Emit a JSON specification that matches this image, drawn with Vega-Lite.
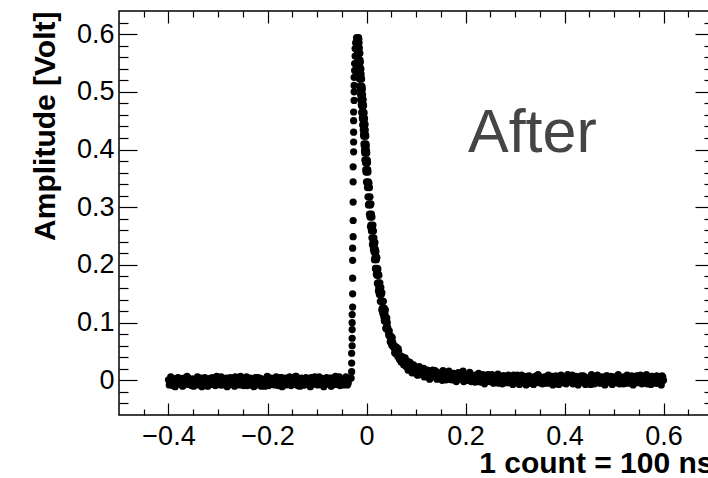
{
  "$schema": "https://vega.github.io/schema/vega-lite/v6.json",
  "width": 594,
  "height": 404,
  "autosize": {"type": "none"},
  "padding": {"left": 119, "top": 11, "right": -5, "bottom": 63},
  "background": "white",
  "config": {
    "view": {"stroke": "black", "strokeWidth": 1.5},
    "axis": {
      "domain": false,
      "grid": false,
      "tickColor": "black",
      "tickWidth": 1.2,
      "labelFont": "Liberation Sans",
      "labelFontSize": 27,
      "labelColor": "black",
      "titleFont": "Liberation Sans",
      "titleFontSize": 30,
      "titleFontWeight": "bold",
      "titleColor": "black"
    }
  },
  "data": {
    "values": "t,v\n-0.4,0.001\n-0.397,-0.007\n-0.394,-0.001\n-0.391,-0.009\n-0.388,0.002\n-0.385,-0.004\n-0.382,0.004\n-0.379,-0.006\n-0.376,-0.002\n-0.373,0.003\n-0.37,-0.008\n-0.367,0\n-0.364,-0.005\n-0.361,0.005\n-0.358,-0.003\n-0.355,-0.007\n-0.352,0.002\n-0.349,-0.01\n-0.346,0\n-0.343,0.003\n-0.34,-0.005\n-0.337,-0.002\n-0.334,0.004\n-0.331,-0.008\n-0.328,0.001\n-0.325,-0.004\n-0.322,-0.009\n-0.319,0.002\n-0.316,-0.001\n-0.313,-0.006\n-0.31,0.005\n-0.307,-0.007\n-0.304,0\n-0.301,-0.003\n-0.298,0.003\n-0.295,-0.008\n-0.292,-0.002\n-0.289,0.001\n-0.286,-0.005\n-0.283,0.004\n-0.28,-0.009\n-0.277,-0.001\n-0.274,0.002\n-0.271,-0.004\n-0.268,-0.007\n-0.265,0.006\n-0.262,-0.006\n-0.259,0\n-0.256,-0.008\n-0.253,0.001\n-0.25,-0.002\n-0.247,-0.005\n-0.244,0.003\n-0.241,-0.009\n-0.238,-0.001\n-0.235,0.004\n-0.232,-0.004\n-0.229,-0.007\n-0.226,0.002\n-0.223,-0.003\n-0.22,0.005\n-0.217,-0.008\n-0.214,0\n-0.211,-0.006\n-0.208,0.001\n-0.205,-0.01\n-0.202,0.003\n-0.199,-0.002\n-0.196,-0.004\n-0.193,0.004\n-0.19,-0.007\n-0.187,-0.001\n-0.184,-0.005\n-0.181,0.002\n-0.178,-0.009\n-0.175,0\n-0.172,0.005\n-0.169,-0.006\n-0.166,-0.002\n-0.163,-0.008\n-0.16,0.001\n-0.157,0.003\n-0.154,-0.003\n-0.151,-0.007\n-0.148,0.004\n-0.145,-0.005\n-0.142,0.007\n-0.139,-0.009\n-0.136,0.002\n-0.133,0\n-0.13,-0.004\n-0.127,-0.008\n-0.124,0.003\n-0.121,-0.002\n-0.118,0.001\n-0.115,-0.006\n-0.112,0.005\n-0.109,-0.007\n-0.106,-0.001\n-0.103,-0.004\n-0.1,0.005\n-0.097,-0.007\n-0.094,0\n-0.091,-0.003\n-0.088,0.003\n-0.085,-0.008\n-0.082,-0.002\n-0.079,0.001\n-0.076,-0.005\n-0.073,0.004\n-0.07,-0.009\n-0.067,-0.001\n-0.064,0.002\n-0.061,-0.004\n-0.058,-0.007\n-0.055,0.006\n-0.052,-0.006\n-0.049,0\n-0.046,-0.008\n-0.043,0.001\n-0.04,-0.002\n-0.037,-0.005\n-0.034,0.003\n-0.3985,-0.008\n-0.3955,0.006\n-0.3925,-0.004\n-0.3895,0.003\n-0.3865,-0.011\n-0.3835,0.001\n-0.3805,0.005\n-0.3775,-0.006\n-0.3745,-0.001\n-0.3715,-0.01\n-0.3685,0.004\n-0.3655,-0.003\n-0.3625,0.007\n-0.3595,-0.007\n-0.3565,0\n-0.3535,-0.009\n-0.3505,0.002\n-0.3475,-0.002\n-0.3445,-0.005\n-0.3415,0.006\n-0.3385,-0.008\n-0.3355,0.003\n-0.3325,-0.011\n-0.3295,-0.001\n-0.3265,0.005\n-0.3235,-0.004\n-0.3205,-0.01\n-0.3175,0.002\n-0.3145,0.004\n-0.3115,-0.007\n-0.3085,0.001\n-0.3055,-0.009\n-0.3025,0.007\n-0.2995,-0.003\n-0.2965,-0.006\n-0.2935,0.006\n-0.2905,-0.008\n-0.2875,0\n-0.2845,0.003\n-0.2815,-0.011\n-0.2785,-0.002\n-0.2755,0.005\n-0.2725,-0.005\n-0.2695,0.004\n-0.2665,-0.01\n-0.2635,-0.001\n-0.2605,0.002\n-0.2575,-0.007\n-0.2545,0.007\n-0.2515,-0.004\n-0.2485,-0.009\n-0.2455,0.001\n-0.2425,0.006\n-0.2395,-0.006\n-0.2365,-0.008\n-0.2335,0.003\n-0.2305,0\n-0.2275,-0.011\n-0.2245,0.005\n-0.2215,-0.003\n-0.2185,-0.005\n-0.2155,0.004\n-0.2125,-0.01\n-0.2095,0.002\n-0.2065,-0.001\n-0.2035,-0.007\n-0.2005,0.007\n-0.1975,-0.009\n-0.1945,0.001\n-0.1915,-0.004\n-0.1885,0.003\n-0.1855,-0.008\n-0.1825,0.006\n-0.1795,-0.002\n-0.1765,-0.006\n-0.1735,0.005\n-0.1705,-0.011\n-0.1675,0\n-0.1645,0.004\n-0.1615,-0.005\n-0.1585,-0.003\n-0.1555,0.006\n-0.1525,-0.009\n-0.1495,0.002\n-0.1465,-0.007\n-0.1435,0.007\n-0.1405,-0.004\n-0.1375,0.001\n-0.1345,-0.01\n-0.1315,0.004\n-0.1285,-0.001\n-0.1255,-0.008\n-0.1225,0.005\n-0.1195,-0.006\n-0.1165,0\n-0.1135,-0.011\n-0.1105,0.003\n-0.1075,-0.003\n-0.1045,0.006\n-0.1015,-0.005\n-0.0985,-0.008\n-0.0955,0.006\n-0.0925,-0.004\n-0.0895,0.003\n-0.0865,-0.011\n-0.0835,0.001\n-0.0805,0.005\n-0.0775,-0.006\n-0.0745,-0.001\n-0.0715,-0.01\n-0.0685,0.004\n-0.0655,-0.003\n-0.0625,0.007\n-0.0595,-0.007\n-0.0565,0\n-0.0535,-0.009\n-0.0505,0.002\n-0.0475,-0.002\n-0.0445,-0.005\n-0.0415,0.006\n-0.0385,-0.008\n-0.0355,0.003\n-0.031,0.004\n-0.03,0.015\n-0.03,0.03\n-0.03,0.047\n-0.029,0.06\n-0.029,0.073\n-0.029,0.088\n-0.029,0.1\n-0.029,0.114\n-0.028,0.127\n-0.028,0.15\n-0.028,0.177\n-0.028,0.208\n-0.028,0.229\n-0.027,0.249\n-0.027,0.277\n-0.027,0.309\n-0.027,0.344\n-0.027,0.37\n-0.026,0.396\n-0.026,0.413\n-0.026,0.43\n-0.026,0.45\n-0.026,0.465\n-0.025,0.485\n-0.025,0.5\n-0.025,0.511\n-0.025,0.525\n-0.024,0.537\n-0.024,0.549\n-0.023,0.562\n-0.023,0.575\n-0.022,0.585\n-0.02,0.594\n-0.0195,0.591\n-0.019,0.585\n-0.0185,0.576\n-0.018,0.567\n-0.0175,0.567\n-0.017,0.555\n-0.0165,0.551\n-0.016,0.541\n-0.0155,0.539\n-0.015,0.531\n-0.0145,0.524\n-0.014,0.522\n-0.0135,0.51\n-0.013,0.508\n-0.0125,0.504\n-0.012,0.495\n-0.0115,0.487\n-0.011,0.486\n-0.0105,0.478\n-0.01,0.476\n-0.0095,0.465\n-0.009,0.463\n-0.0085,0.455\n-0.008,0.453\n-0.0075,0.442\n-0.007,0.444\n-0.0065,0.434\n-0.006,0.426\n-0.0055,0.423\n-0.005,0.41\n-0.0045,0.406\n-0.004,0.398\n-0.0035,0.394\n-0.003,0.382\n-0.0025,0.381\n-0.002,0.377\n-0.0015,0.365\n-0.001,0.361\n0,0.344\n0.001,0.342\n0.002,0.334\n0.003,0.318\n0.004,0.304\n0.005,0.306\n0.006,0.288\n0.007,0.283\n0.008,0.266\n0.009,0.269\n0.01,0.259\n0.011,0.247\n0.012,0.235\n0.013,0.239\n0.014,0.227\n0.015,0.223\n0.016,0.209\n0.017,0.213\n0.018,0.194\n0.019,0.193\n0.02,0.184\n0.021,0.182\n0.022,0.168\n0.023,0.169\n0.024,0.155\n0.025,0.161\n0.026,0.149\n0.027,0.152\n0.028,0.137\n0.029,0.137\n0.03,0.137\n0.031,0.122\n0.032,0.125\n0.033,0.116\n0.034,0.122\n0.035,0.11\n0.036,0.103\n0.037,0.108\n0.039,0.09\n0.041,0.094\n0.043,0.091\n0.045,0.078\n0.047,0.076\n0.049,0.077\n0.051,0.061\n0.053,0.066\n0.055,0.057\n0.057,0.048\n0.059,0.056\n0.061,0.05\n0.063,0.042\n0.065,0.05\n0.067,0.036\n0.069,0.041\n0.071,0.036\n0.073,0.04\n0.075,0.027\n0.077,0.031\n0.079,0.033\n0.081,0.025\n0.083,0.033\n0.085,0.018\n0.087,0.025\n0.089,0.026\n0.091,0.019\n0.093,0.015\n0.095,0.027\n0.097,0.014\n0.099,0.019\n-0.016,0.594\n-0.0155,0.591\n-0.015,0.585\n-0.0145,0.576\n-0.014,0.567\n-0.0135,0.567\n-0.013,0.555\n-0.0125,0.551\n-0.012,0.541\n-0.0115,0.539\n-0.011,0.531\n-0.0105,0.524\n-0.01,0.522\n-0.0095,0.51\n-0.009,0.508\n-0.0085,0.504\n-0.008,0.495\n-0.0075,0.487\n-0.007,0.486\n-0.0065,0.478\n-0.006,0.476\n-0.0055,0.465\n-0.005,0.463\n-0.0045,0.455\n-0.004,0.453\n-0.0035,0.442\n-0.003,0.444\n-0.0025,0.434\n-0.002,0.426\n-0.0015,0.423\n-0.001,0.41\n-0.0005,0.406\n0,0.398\n0.0005,0.394\n0.001,0.382\n0.0015,0.381\n0.002,0.377\n0.0025,0.365\n0.003,0.361\n0.004,0.344\n0.005,0.342\n0.006,0.334\n0.007,0.318\n0.008,0.304\n0.009,0.306\n0.01,0.288\n0.011,0.283\n0.012,0.266\n0.013,0.269\n0.014,0.259\n0.015,0.247\n0.016,0.235\n0.017,0.239\n0.018,0.227\n0.019,0.223\n0.02,0.209\n0.021,0.213\n0.022,0.194\n0.023,0.193\n0.024,0.184\n0.025,0.182\n0.026,0.168\n0.027,0.169\n0.028,0.155\n0.029,0.161\n0.03,0.149\n0.031,0.152\n0.032,0.137\n0.033,0.137\n0.034,0.137\n0.035,0.122\n0.036,0.125\n0.037,0.116\n0.038,0.122\n0.039,0.11\n0.04,0.103\n0.041,0.108\n0.04,0.092\n0.042,0.1\n0.044,0.084\n0.046,0.086\n0.048,0.067\n0.05,0.074\n0.052,0.074\n0.054,0.059\n0.056,0.06\n0.058,0.047\n0.06,0.058\n0.062,0.048\n0.064,0.055\n0.066,0.038\n0.068,0.043\n0.07,0.032\n0.072,0.041\n0.074,0.035\n0.076,0.03\n0.078,0.039\n0.08,0.024\n0.082,0.033\n0.084,0.018\n0.086,0.026\n0.088,0.031\n0.09,0.02\n0.092,0.013\n0.094,0.024\n0.096,0.025\n0.098,0.013\n0.1,0.02\n0.102,0.01\n0.105,0.018\n0.108,0.015\n0.111,0.011\n0.114,0.018\n0.117,0.006\n0.12,0.013\n0.123,0.018\n0.126,0.009\n0.129,0.006\n0.132,0.015\n0.135,0.009\n0.138,0.017\n0.141,0.004\n0.144,0.011\n0.147,0.005\n0.15,0.012\n0.153,0\n0.156,0.013\n0.159,0.008\n0.162,0.006\n0.165,0.014\n0.168,0.002\n0.171,0.008\n0.174,0.004\n0.177,0.011\n0.18,0\n0.183,0.008\n0.186,0.013\n0.189,0.002\n0.192,0.006\n0.195,0.016\n0.198,0.008\n0.201,0.01\n0.204,0.004\n0.207,0\n0.21,0.011\n0.213,0.001\n0.216,0.005\n0.219,-0.003\n0.222,0.008\n0.225,0.006\n0.228,0.001\n0.231,-0.003\n0.234,0.008\n0.237,0.003\n0.24,0.006\n0.243,-0.001\n0.246,0.01\n0.249,-0.002\n0.252,0.003\n0.255,0\n0.258,0.005\n0.261,-0.003\n0.264,0.003\n0.267,-0.005\n0.27,0.006\n0.273,0\n0.276,0.008\n0.279,-0.002\n0.282,0.002\n0.285,0.007\n0.288,-0.004\n0.291,0.004\n0.294,-0.001\n0.297,0.009\n0.3,0.001\n0.303,-0.004\n0.306,0.005\n0.309,-0.007\n0.312,0.003\n0.315,0.006\n0.318,-0.002\n0.321,0.001\n0.324,0.007\n0.327,-0.005\n0.33,0.004\n0.333,-0.001\n0.336,-0.006\n0.339,0.005\n0.342,0.002\n0.345,-0.003\n0.348,0.008\n0.351,-0.004\n0.354,0.003\n0.357,0\n0.36,0.006\n0.363,-0.005\n0.366,0.001\n0.369,0.004\n0.372,-0.002\n0.375,0.007\n0.378,-0.006\n0.381,0.002\n0.384,0.005\n0.387,-0.001\n0.39,-0.004\n0.393,0.009\n0.396,-0.003\n0.399,0.003\n0.402,-0.005\n0.405,0.004\n0.408,0.001\n0.411,-0.002\n0.414,0.006\n0.417,-0.006\n0.42,0.002\n0.423,0.007\n0.426,-0.001\n0.429,-0.004\n0.432,0.005\n0.435,0\n0.438,0.008\n0.441,-0.005\n0.444,0.003\n0.447,-0.003\n0.45,0.004\n0.453,-0.007\n0.456,0.006\n0.459,0.001\n0.462,-0.001\n0.465,0.007\n0.468,-0.004\n0.471,0.002\n0.474,-0.002\n0.477,0.005\n0.48,-0.006\n0.483,0.003\n0.486,0.008\n0.489,-0.003\n0.492,0.001\n0.495,-0.005\n0.498,0.004\n0.501,0.006\n0.504,0\n0.507,-0.004\n0.51,0.007\n0.513,-0.002\n0.516,0.002\n0.519,-0.006\n0.522,0.005\n0.525,0.003\n0.528,-0.001\n0.531,-0.005\n0.534,0.006\n0.537,0.001\n0.54,0.004\n0.543,-0.003\n0.546,0.008\n0.549,-0.004\n0.552,0.002\n0.555,-0.001\n0.558,0.004\n0.561,-0.004\n0.564,0.002\n0.567,-0.006\n0.57,0.005\n0.573,-0.001\n0.576,0.007\n0.579,-0.003\n0.582,0.001\n0.585,0.006\n0.588,-0.005\n0.591,0.003\n0.594,-0.002\n0.597,0.008\n0.6,0\n0.1035,0.009\n0.1065,0.024\n0.1095,0.014\n0.1125,0.01\n0.1155,0.021\n0.1185,0.007\n0.1215,0.014\n0.1245,0.017\n0.1275,0.002\n0.1305,0.011\n0.1335,0.018\n0.1365,0.007\n0.1395,0.016\n0.1425,0.002\n0.1455,0.01\n0.1485,0.013\n0.1515,0.004\n0.1545,0.017\n0.1575,0.006\n0.1605,0.001\n0.1635,0.011\n0.1665,0.016\n0.1695,0.003\n0.1725,0.001\n0.1755,0.012\n0.1785,0.009\n0.1815,-0.002\n0.1845,0.013\n0.1875,0.005\n0.1905,0.003\n0.1935,0.012\n0.1965,-0.002\n0.1995,0.009\n0.2025,0.006\n0.2055,0\n0.2085,0.014\n0.2115,-0.002\n0.2145,0.007\n0.2175,0.002\n0.2205,0.009\n0.2235,-0.002\n0.2265,0.012\n0.2295,0.003\n0.2325,-0.001\n0.2355,0.01\n0.2385,-0.006\n0.2415,0.005\n0.2445,0.009\n0.2475,0\n0.2505,0.001\n0.2535,0.01\n0.2565,-0.005\n0.2595,0.006\n0.2625,-0.003\n0.2655,0.011\n0.2685,0\n0.2715,0.005\n0.2745,-0.006\n0.2775,0.008\n0.2805,0.003\n0.2835,-0.004\n0.2865,0.009\n0.2895,-0.002\n0.2925,0.004\n0.2955,-0.007\n0.2985,0.007\n0.3015,0\n0.3045,0.009\n0.3075,-0.002\n0.3105,-0.005\n0.3135,0.009\n0.3165,-0.001\n0.3195,0.006\n0.3225,-0.008\n0.3255,0.004\n0.3285,0.008\n0.3315,-0.003\n0.3345,0.002\n0.3375,-0.007\n0.3405,0.007\n0.3435,0\n0.3465,0.01\n0.3495,-0.004\n0.3525,0.003\n0.3555,-0.006\n0.3585,0.005\n0.3615,0.001\n0.3645,-0.002\n0.3675,0.009\n0.3705,-0.005\n0.3735,0.006\n0.3765,-0.008\n0.3795,0.002\n0.3825,0.008\n0.3855,-0.001\n0.3885,-0.007\n0.3915,0.005\n0.3945,0.007\n0.3975,-0.004\n0.4005,0.004\n0.4035,-0.006\n0.4065,0.01\n0.4095,0\n0.4125,-0.003\n0.4155,0.009\n0.4185,-0.005\n0.4215,0.003\n0.4245,0.006\n0.4275,-0.008\n0.4305,0.001\n0.4335,0.008\n0.4365,-0.002\n0.4395,0.007\n0.4425,-0.007\n0.4455,0.002\n0.4485,0.005\n0.4515,-0.004\n0.4545,0.01\n0.4575,-0.001\n0.4605,-0.006\n0.4635,0.004\n0.4665,0.009\n0.4695,-0.003\n0.4725,-0.005\n0.4755,0.006\n0.4785,0.003\n0.4815,-0.008\n0.4845,0.008\n0.4875,0\n0.4905,-0.002\n0.4935,0.007\n0.4965,-0.007\n0.4995,0.005\n0.5025,0.002\n0.5055,-0.004\n0.5085,0.01\n0.5115,-0.006\n0.5145,0.004\n0.5175,-0.001\n0.5205,0.006\n0.5235,-0.005\n0.5265,0.009\n0.5295,0.001\n0.5325,-0.003\n0.5355,0.008\n0.5385,-0.008\n0.5415,0.003\n0.5445,0.007\n0.5475,-0.002\n0.5505,0\n0.5535,0.009\n0.5565,-0.006\n0.5595,0.005\n0.5625,-0.004\n0.5655,0.01\n0.5685,-0.001\n0.5715,0.004\n0.5745,-0.007\n0.5775,0.007\n0.5805,0.002\n0.5835,-0.005\n0.5865,0.008\n0.5895,-0.003\n0.5925,0.003\n0.5955,-0.008\n0.5985,0.006",
    "format": {"type": "csv", "parse": {"t": "number", "v": "number"}}
  },
  "resolve": {"axis": {"x": "independent", "y": "independent"}},
  "layer": [
    {
      "mark": {"type": "circle", "color": "black", "size": 52, "opacity": 1},
      "encoding": {
        "x": {
          "field": "t", "type": "quantitative",
          "scale": {"domain": [-0.5, 0.7], "nice": false, "zero": false},
          "axis": {
            "orient": "bottom",
            "values": [-0.4, -0.2, 0, 0.2, 0.4, 0.6],
            "format": ".1~f",
            "tickSize": -12,
            "labelPadding": 20,
            "title": "1 count = 100 ns",
            "titleAnchor": "end",
            "titlePadding": -1
          }
        },
        "y": {
          "field": "v", "type": "quantitative",
          "scale": {"domain": [-0.06, 0.64], "nice": false, "zero": false},
          "axis": {
            "orient": "left",
            "values": [0, 0.1, 0.2, 0.3, 0.4, 0.5, 0.6],
            "format": ".1~f",
            "tickSize": -18,
            "labelPadding": 23,
            "title": "Amplitude [Volt]",
            "titleAnchor": "end",
            "titlePadding": 16
          }
        }
      }
    },
    {
      "mark": {"type": "point", "opacity": 0},
      "encoding": {
        "x": {
          "field": "t", "type": "quantitative",
          "scale": {"domain": [-0.5, 0.7], "nice": false, "zero": false},
          "axis": {
            "orient": "bottom",
            "values": [-0.45, -0.35, -0.3, -0.25, -0.15, -0.1, -0.05, 0.05, 0.1, 0.15, 0.25, 0.3, 0.35, 0.45, 0.5, 0.55, 0.65],
            "tickSize": -6,
            "labels": false,
            "title": null
          }
        },
        "y": {
          "field": "v", "type": "quantitative",
          "scale": {"domain": [-0.06, 0.64], "nice": false, "zero": false},
          "axis": {
            "orient": "left",
            "values": [-0.04, -0.02, 0.02, 0.04, 0.06, 0.08, 0.12, 0.14, 0.16, 0.18, 0.22, 0.24, 0.26, 0.28, 0.32, 0.34, 0.36, 0.38, 0.42, 0.44, 0.46, 0.48, 0.52, 0.54, 0.56, 0.58, 0.62],
            "tickSize": -9,
            "labels": false,
            "title": null
          }
        }
      }
    },
    {
      "mark": {"type": "point", "opacity": 0},
      "encoding": {
        "x": {
          "field": "t", "type": "quantitative",
          "scale": {"domain": [-0.5, 0.7], "nice": false, "zero": false},
          "axis": {
            "orient": "top",
            "values": [-0.4, -0.2, 0, 0.2, 0.4, 0.6],
            "tickSize": -12,
            "labels": false,
            "title": null
          }
        },
        "y": {
          "field": "v", "type": "quantitative",
          "scale": {"domain": [-0.06, 0.64], "nice": false, "zero": false},
          "axis": {
            "orient": "right",
            "values": [0, 0.1, 0.2, 0.3, 0.4, 0.5, 0.6],
            "tickSize": -18,
            "labels": false,
            "title": null
          }
        }
      }
    },
    {
      "mark": {"type": "point", "opacity": 0},
      "encoding": {
        "x": {
          "field": "t", "type": "quantitative",
          "scale": {"domain": [-0.5, 0.7], "nice": false, "zero": false},
          "axis": {
            "orient": "top",
            "values": [-0.45, -0.35, -0.3, -0.25, -0.15, -0.1, -0.05, 0.05, 0.1, 0.15, 0.25, 0.3, 0.35, 0.45, 0.5, 0.55, 0.65],
            "tickSize": -6,
            "labels": false,
            "title": null
          }
        },
        "y": {
          "field": "v", "type": "quantitative",
          "scale": {"domain": [-0.06, 0.64], "nice": false, "zero": false},
          "axis": {
            "orient": "right",
            "values": [-0.04, -0.02, 0.02, 0.04, 0.06, 0.08, 0.12, 0.14, 0.16, 0.18, 0.22, 0.24, 0.26, 0.28, 0.32, 0.34, 0.36, 0.38, 0.42, 0.44, 0.46, 0.48, 0.52, 0.54, 0.56, 0.58, 0.62],
            "tickSize": -9,
            "labels": false,
            "title": null
          }
        }
      }
    },
    {
      "data": {"values": [{"t": 0.205, "v": 0.395, "label": "After"}]},
      "mark": {"type": "text", "font": "Liberation Sans", "fontSize": 61, "color": "#454545", "align": "left", "baseline": "alphabetic"},
      "encoding": {
        "x": {"field": "t", "type": "quantitative", "scale": {"domain": [-0.5, 0.7], "nice": false, "zero": false}, "axis": null},
        "y": {"field": "v", "type": "quantitative", "scale": {"domain": [-0.06, 0.64], "nice": false, "zero": false}, "axis": null},
        "text": {"field": "label"}
      }
    }
  ]
}
